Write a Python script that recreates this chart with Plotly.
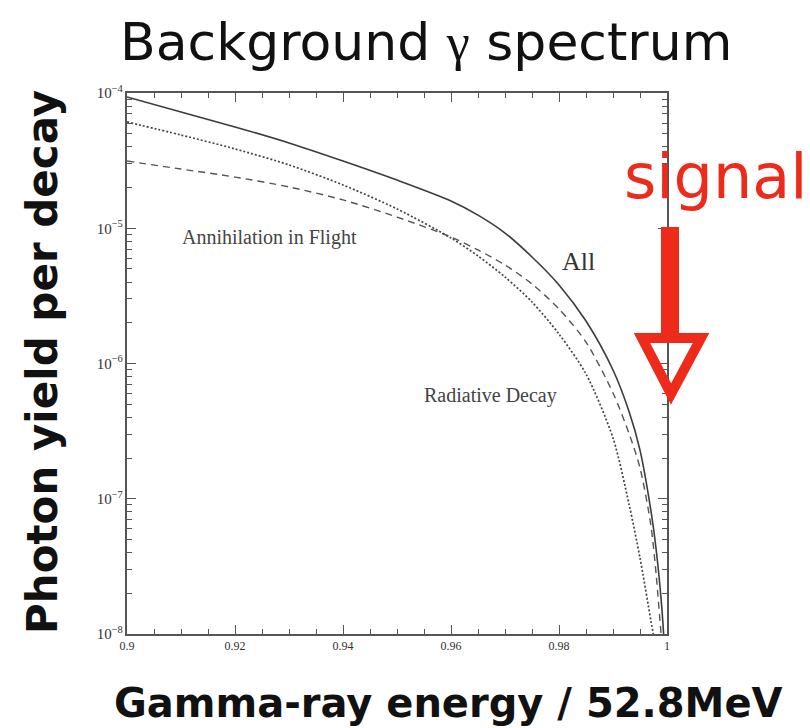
import plotly.graph_objects as go

# ---- data ----
energy_all = [0.900, 0.910, 0.920, 0.930, 0.940, 0.950, 0.960, 0.965, 0.970, 0.975,
              0.980, 0.985, 0.990, 0.993, 0.995, 0.997, 0.998, 0.999, 0.9995]
yield_all = [9.34e-5, 7.24e-5, 5.61e-5, 4.27e-5, 3.14e-5, 2.27e-5, 1.59e-5, 1.25e-5, 9.22e-6, 6.13e-6,
             3.81e-6, 2.06e-6, 8.95e-7, 4.38e-7, 2.29e-7, 8.26e-8, 4.18e-8, 1.64e-8, 8.3e-9]

energy_rad = [0.900, 0.910, 0.920, 0.930, 0.940, 0.950, 0.960, 0.965, 0.970, 0.975,
              0.980, 0.985, 0.990, 0.993, 0.995, 0.997, 0.998]
yield_rad = [6.11e-5, 4.89e-5, 3.86e-5, 2.94e-5, 2.09e-5, 1.39e-5, 8.47e-6, 6.24e-6, 4.36e-6, 2.85e-6,
             1.65e-6, 8.36e-7, 2.81e-7, 8.99e-8, 3.65e-8, 1.27e-8, 7.6e-9]

energy_aif = [0.900, 0.910, 0.920, 0.930, 0.940, 0.950, 0.960, 0.965, 0.970, 0.975,
              0.980, 0.985, 0.990, 0.993, 0.995, 0.997, 0.998, 0.999, 0.9993]
yield_aif = [3.14e-5, 2.74e-5, 2.39e-5, 2.02e-5, 1.62e-5, 1.21e-5, 8.61e-6, 6.91e-6, 5.35e-6, 3.87e-6,
             2.53e-6, 1.44e-6, 6.05e-7, 3.01e-7, 1.69e-7, 6.40e-8, 2.73e-8, 9.03e-9, 7.0e-9]

x_range = [0.9, 1.0]
y_log_range = [-8, -4]

title_text = 'Background <span style="font-family:Liberation Serif">γ</span> spectrum'
x_label = "Gamma-ray energy / 52.8MeV"
y_label = "Photon yield per decay"
label_all = "All"
label_rad = "Radiative Decay"
label_aif = "Annihilation in Flight"
signal_text = "signal"

RED = "#ee2a1b"
INK = "#3c3c3c"

fig = go.Figure()
fig.add_trace(go.Scatter(x=energy_aif, y=yield_aif, mode="lines",
                         line=dict(color="#555555", width=1.4, dash="7px,5px", shape="spline", smoothing=0.8),
                         hoverinfo="skip"))
fig.add_trace(go.Scatter(x=energy_rad, y=yield_rad, mode="lines",
                         line=dict(color="#444444", width=1.7, dash="2px,2px", shape="spline", smoothing=0.8),
                         hoverinfo="skip"))
fig.add_trace(go.Scatter(x=energy_all, y=yield_all, mode="lines",
                         line=dict(color=INK, width=1.6, shape="spline", smoothing=0.8),
                         hoverinfo="skip"))

axis_common = dict(showline=True, linecolor="#555555", linewidth=1.5, mirror="ticks",
                   ticks="inside", tickcolor="#555555", ticklen=9, tickwidth=1.2,
                   showgrid=False, zeroline=False,
                   tickfont=dict(family="Liberation Serif", size=12, color="#333333"))

fig.update_xaxes(range=x_range, dtick=0.02, tick0=0.9,
                 minor=dict(ticks="inside", ticklen=5, dtick=0.005, tickcolor="#555555", showgrid=False),
                 **axis_common)
fig.update_yaxes(type="log", range=y_log_range, dtick=1, exponentformat="power",
                 minor=dict(ticks="inside", ticklen=5, dtick="D1", tickcolor="#555555", showgrid=False),
                 **axis_common)

def px_x(px):
    return (px - 127) / 540.0

def px_y(py):
    return (634 - py) / 541.0

ann = [
    dict(text=title_text, x=px_x(426), y=px_y(42), font=dict(family="DejaVu Sans", size=52, color="#111111")),
    dict(text=y_label, x=px_x(42), y=px_y(362), textangle=-90,
         font=dict(family="DejaVu Sans", size=42, color="#111111", weight="bold")),
    dict(text=x_label, x=px_x(448), y=px_y(703),
         font=dict(family="DejaVu Sans", size=40, color="#111111", weight="bold")),
    dict(text=label_aif, x=px_x(269), y=px_y(237), font=dict(family="Liberation Serif", size=20, color="#444444")),
    dict(text=label_rad, x=px_x(490), y=px_y(395), font=dict(family="Liberation Serif", size=20, color="#444444")),
    dict(text=label_all, x=px_x(578), y=px_y(261), font=dict(family="Liberation Serif", size=26, color="#333333")),
    dict(text=signal_text, x=px_x(622), y=px_y(176), xanchor="left",
         font=dict(family="DejaVu Sans", size=62, color=RED)),
]
for a in ann:
    a.setdefault("xanchor", "center")
    a.setdefault("yanchor", "middle")
    fig.add_annotation(xref="paper", yref="paper", showarrow=False, **a)

# signal arrow: thick shaft + hollow triangular head
fig.add_shape(type="rect", xref="paper", yref="paper",
              x0=px_x(661), x1=px_x(679), y0=px_y(336), y1=px_y(227),
              fillcolor=RED, line=dict(width=0), layer="above")
fig.add_shape(type="path", xref="paper", yref="paper",
              path=f"M {px_x(642)},{px_y(338)} L {px_x(701)},{px_y(338)} L {px_x(671)},{px_y(394)} Z",
              line=dict(color=RED, width=10), fillcolor="rgba(0,0,0,0)", layer="above")

fig.update_layout(width=810, height=728, autosize=False,
                  margin=dict(l=127, r=143, t=93, b=94),
                  paper_bgcolor="white", plot_bgcolor="white", showlegend=False)

fig.write_html("out.html")
